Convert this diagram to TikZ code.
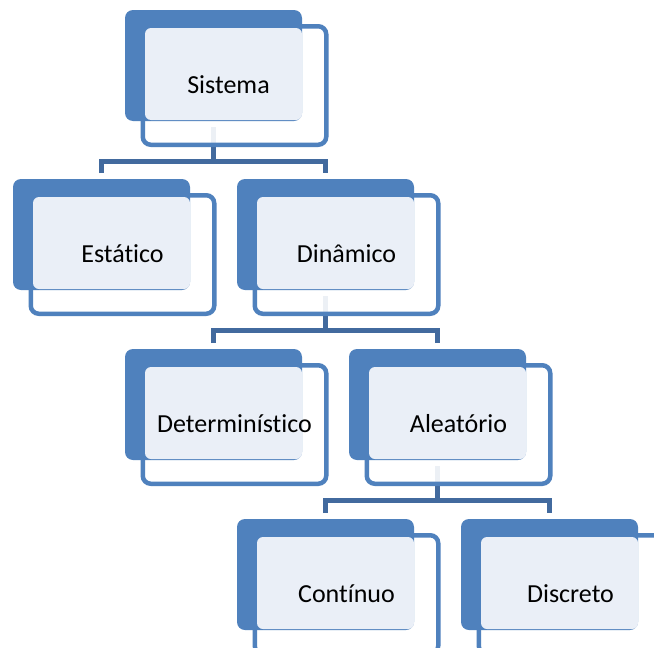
\documentclass[tikz,border=0pt]{standalone}
\usepackage{fontspec}
\setmainfont{Carlito}[Ligatures={NoCommon}]
\usetikzlibrary{backgrounds}
\definecolor{accent}{RGB}{79,129,189}
\definecolor{tint}{RGB}{234,239,247}
\definecolor{linkblue}{RGB}{66,106,158}
\tikzset{
  back/.style={fill=accent, rounded corners=8pt, minimum width=177pt,
    minimum height=111pt, inner sep=0pt, outer sep=0pt},
  frame/.style={draw=accent, line width=4.5pt, fill=white, fill opacity=0.9,
    rounded corners=8pt, minimum width=183.5pt, minimum height=118.5pt,
    inner sep=0pt},
  face/.style={fill=tint, rounded corners=6pt, minimum width=157pt,
    minimum height=92pt, inner sep=0pt},
  boxtext/.style={anchor=base, font=\fontsize{26}{30}\selectfont,
    text=black, inner sep=0pt},
  link/.style={draw=linkblue, line width=5pt},
}
% one entry of the hierarchy: outline frame, solid back panel, tinted face, text
\newcommand\smartitem[5][]{%
  \begin{scope}[shift={(#3,#4)}]
    \node[frame] (#2-f) at (109.5,75.5) {};
    \node[back, anchor=north west] (#2) at (0,0) {};
    \node[face] (#2-l) at (98.5,64) {};
    \node[boxtext,#1] (#2-t) at ([yshift=-8pt]#2-f.center) {#5};
  \end{scope}}
% parent-to-children bracket
\newcommand\linkdown[3]{%
  \draw[link] ([yshift=-6pt]#1.south) -- ([yshift=-40pt]#1.south);
  \draw[link] ([yshift=6pt]#2.north) |- ([yshift=-40pt]#1.south)
    -| ([yshift=6pt]#3.north);}
\begin{document}
\begin{tikzpicture}[x=1pt, y=-1pt]
  \useasboundingbox (0,0) rectangle (654,648);
  \clip (0,0) rectangle (654,648);

  \smartitem[xshift=-6pt]{sis}{125}{10}{Sistema}
  \smartitem{est}{13}{179}{Estático}
  \smartitem{din}{237}{179}{Dinâmico}
  \smartitem{det}{125}{349}{Determinístico}
  \smartitem{ale}{349}{349}{Aleatório}
  \smartitem{con}{237}{519}{Contínuo}
  \smartitem{dis}{461}{519}{Discreto}

  \begin{pgfonlayer}{background}
    \fill[white] (0,0) rectangle (654,648);
    \linkdown{sis}{est}{din}
    \linkdown{din}{det}{ale}
    \linkdown{ale}{con}{dis}
  \end{pgfonlayer}
\end{tikzpicture}
\end{document}
